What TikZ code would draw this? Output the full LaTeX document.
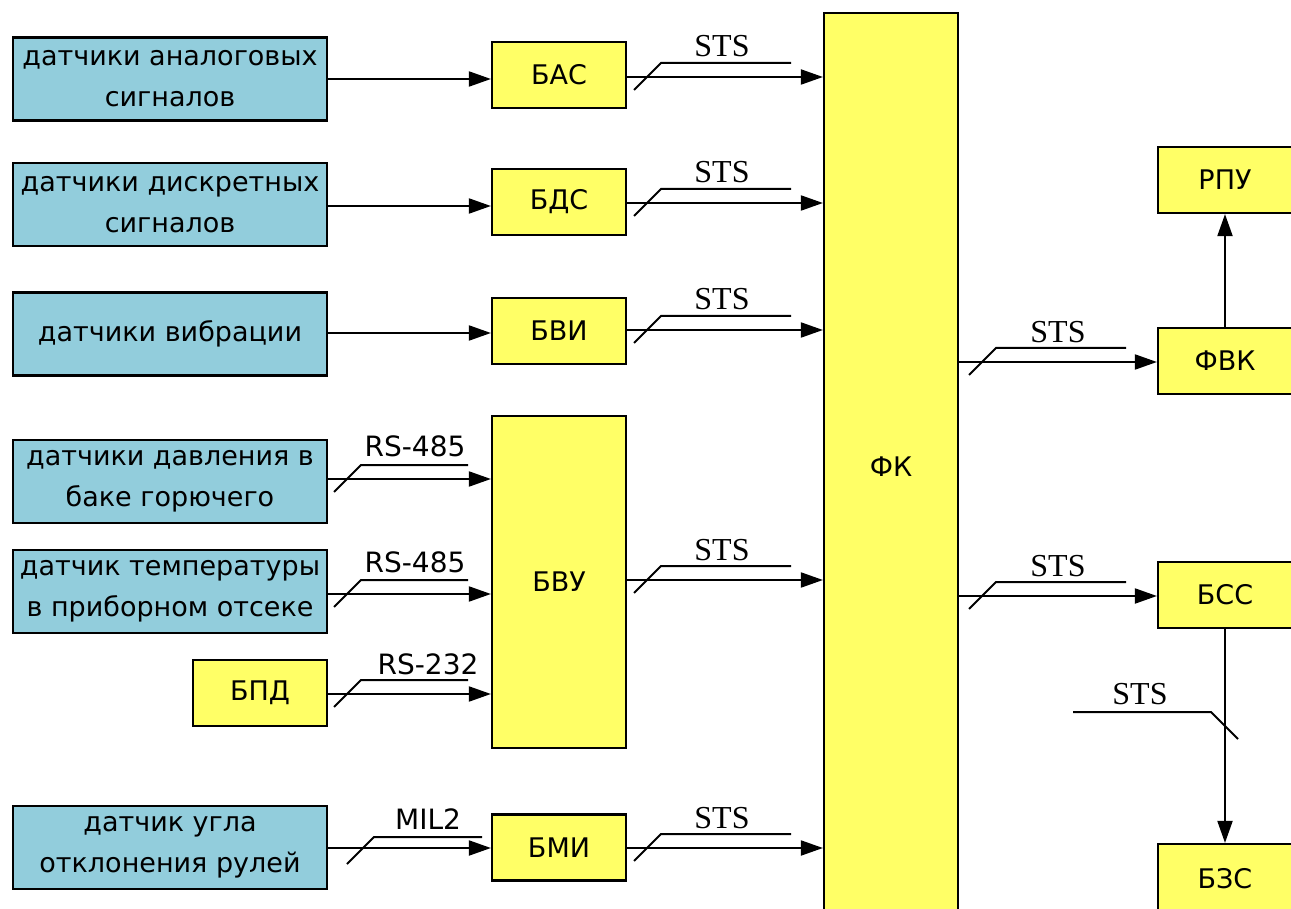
\documentclass[tikz,border=0pt]{standalone}
\usepackage{fontspec}
\setmainfont{DejaVu Sans}
\newfontfamily\stsfont{Liberation Serif}
\usetikzlibrary{arrows.meta,calc}
\definecolor{boxblue}{HTML}{92CDDC}
\definecolor{boxyellow}{HTML}{FFFF66}

% Bus connector: arrow from #1 to #2 at height #3, with the bus slash
% whose foot is at x=#4, the upper rail ending at x=#5, shifted down by #6.
\newcommand{\busconn}[6]{%
  \draw[conn] (#1.east |- 0,#3) -- (#2.west |- 0,#3);
  \draw[busline] (#4,#3+13+#6) -- (#4+27,#3-14+#6) -- (#5,#3-14+#6);
}

\begin{document}
\begin{tikzpicture}[x=1pt,y=-1pt,
  box/.style={draw=black,line width=2.2pt,inner sep=0pt,align=center,
    font=\fontsize{27}{41}\selectfont},
  sensor/.style={box,fill=boxblue,minimum width=314pt,minimum height=83pt},
  unit/.style={box,fill=boxyellow,minimum width=134pt,minimum height=66pt},
  conn/.style={line width=2pt,-{Triangle[length=22pt,width=15pt]}},
  busline/.style={line width=2pt},
  stslabel/.style={font=\stsfont\fontsize{32}{32}\selectfont,anchor=base,inner sep=0pt},
  ifacelabel/.style={font=\fontsize{28}{28}\selectfont,anchor=base,inner sep=0pt},
]
\useasboundingbox (0,0) rectangle (1291,909);
\clip (0,0) rectangle (1291,909);

% sensors
\node[sensor] (s1) at (170,79)    {датчики аналоговых\\сигналов};
\node[sensor] (s2) at (170,204.5) {датчики дискретных\\сигналов};
\node[sensor] (s3) at (170,334)   {датчики вибрации};
\node[sensor] (s4) at (170,481.5) {датчики давления в\\баке горючего};
\node[sensor] (s5) at (170,591.5) {датчик температуры\\в приборном отсеке};
\node[sensor] (s6) at (170,847.5) {датчик угла\\отклонения рулей};

% interface units
\node[unit] (bpd) at (260,693)   {БПД};
\node[unit] (bas) at (559,75)    {БАС};
\node[unit] (bds) at (559,202)   {БДС};
\node[unit] (bvi) at (559,331)   {БВИ};
\node[unit, minimum height=332pt] (bvu) at (559,582) {БВУ};
\node[unit] (bmi) at (559,847.5) {БМИ};

% central unit
\node[unit, minimum height=907pt] (fk) at (891,466.5) {ФК};

% output side
\node[unit] (rpu) at (1225,180)  {РПУ};
\node[unit] (fvk) at (1225,361)  {ФВК};
\node[unit] (bss) at (1225,595)  {БСС};
\node[unit, minimum height=70pt] (bzs) at (1225,879) {БЗС};

% analogue / discrete / vibration sensor lines
\draw[conn] (s1.east |- 0,79)  -- (bas.west |- 0,79);
\draw[conn] (s2.east |- 0,206) -- (bds.west |- 0,206);
\draw[conn] (s3.east |- 0,333) -- (bvi.west |- 0,333);

% serial lines into БВУ and БМИ
\busconn{s4}{bvu}{479}{334}{468}{0}
\node[ifacelabel] (l485a) at (415,456) {RS-485};
\busconn{s5}{bvu}{594}{334}{468}{0}
\node[ifacelabel] (l485b) at (415,572) {RS-485};
\busconn{bpd}{bvu}{694}{334}{468}{0}
\node[ifacelabel] (l232) at (428,674) {RS-232};
\busconn{s6}{bmi}{848}{347}{482}{3}
\node[ifacelabel] (lmil) at (428,829) {MIL2};

% STS buses into ФК
\busconn{bas}{fk}{77}{634}{791}{0}
\node[stslabel] (sts1) at (722,57) {STS};
\busconn{bds}{fk}{203}{634}{791}{0}
\node[stslabel] (sts2) at (722,183) {STS};
\busconn{bvi}{fk}{330}{634}{791}{0}
\node[stslabel] (sts3) at (722,310) {STS};
\busconn{bvu}{fk}{580}{634}{791}{0}
\node[stslabel] (sts4) at (722,560) {STS};
\busconn{bmi}{fk}{848}{634}{791}{0}
\node[stslabel] (sts5) at (722,828) {STS};

% STS buses out of ФК
\busconn{fk}{fvk}{362}{969}{1126}{0}
\node[stslabel] (sts6) at (1058,343) {STS};
\busconn{fk}{bss}{596}{969}{1126}{0}
\node[stslabel] (sts7) at (1058,576) {STS};

% vertical links on the right
\draw[conn] (fvk.north) -- (rpu.south);
\draw[conn] (bss.south) -- (bzs.north);
\coordinate (busin) at (1073,712);
\draw[busline] (busin) -- (1211,712) -- (1238,739);
\node[stslabel] (sts8) at (1140,704) {STS};
\end{tikzpicture}
\end{document}
